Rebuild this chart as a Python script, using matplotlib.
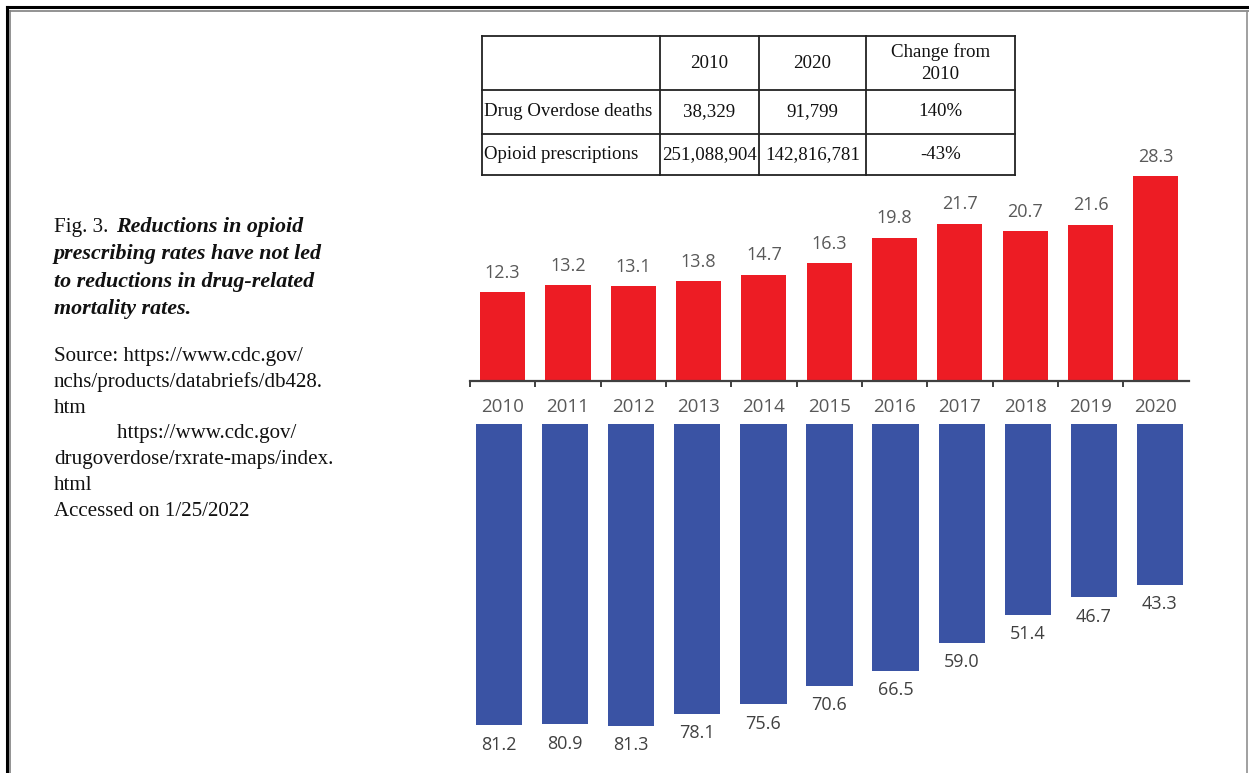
import numpy as np
import matplotlib
matplotlib.use("agg")
import matplotlib.pyplot as plt

# ## Data ##
years = ["2010", "2011", "2012", "2013", "2014", "2015",
         "2016", "2017", "2018", "2019", "2020"]
overdose_rate = [12.3, 13.2, 13.1, 13.8, 14.7, 16.3, 19.8, 21.7, 20.7, 21.6, 28.3]
rx_rate = [81.2, 80.9, 81.3, 78.1, 75.6, 70.6, 66.5, 59.0, 51.4, 46.7, 43.3]

table_cols = ["", "2010", "2020", "Change from\n2010"]
table_rows = ["Drug Overdose deaths", "Opioid prescriptions"]
table_2010 = ["38,329", "251,088,904"]
table_2020 = ["91,799", "142,816,781"]
table_change = ["140%", "-43%"]

caption_lead = "Fig. 3."
caption_bold = ["Reductions in opioid", "prescribing rates have not led",
                "to reductions in drug-related", "mortality rates."]
source_lines = ["Source: https://www.cdc.gov/",
                "nchs/products/databriefs/db428.",
                "htm",
                "            https://www.cdc.gov/",
                "drugoverdose/rxrate-maps/index.",
                "html",
                "Accessed on 1/25/2022"]

W, H = 1249, 773
RED = "#ED1C24"
BLUE = "#3A53A4"
SANS = "Open Sans"
SERIF = "Liberation Serif"


def px_box(x0, y0, x1, y1):
    """Pixel box (top-left origin) -> figure fraction rect."""
    return [x0 / W, 1 - y1 / H, (x1 - x0) / W, (y1 - y0) / H]


fig = plt.figure(figsize=(W / 100, H / 100), dpi=100)

# ## Background overlay for frame, table and caption ##
bg = fig.add_axes([0, 0, 1, 1])
bg.set_xlim(0, W)
bg.set_ylim(H, 0)
bg.axis("off")

# Frame (double line top/left, thin right)
bg.plot([7, 7], [7, H], color="k", lw=2.2)
bg.plot([7, W], [7, 7], color="k", lw=2.2)
bg.plot([10.5, 10.5], [10.5, H], color="#808080", lw=1.2)
bg.plot([10.5, W], [10.5, 10.5], color="#808080", lw=1.2)
bg.plot([1247, 1247], [10.5, H], color="#909090", lw=1.2)

# Table
col_x = [482, 660, 759, 866, 1015]
row_y = [36, 90, 134, 175]
for xl in col_x:
    bg.plot([xl, xl], [row_y[0], row_y[-1]], color="#222222", lw=1.3)
for yl in row_y:
    bg.plot([col_x[0], col_x[-1]], [yl, yl], color="#222222", lw=1.3)
tkw = dict(family=SERIF, fontsize=13.6, color="#111111", va="center")
for j, lab in enumerate(table_cols):
    if lab:
        bg.text((col_x[j] + col_x[j + 1]) / 2, (row_y[0] + row_y[1]) / 2, lab,
                ha="center", linespacing=1.35, **tkw)
for i in range(len(table_rows)):
    yc = (row_y[i + 1] + row_y[i + 2]) / 2
    bg.text(col_x[0] + 2, yc, table_rows[i], ha="left", **tkw)
    bg.text((col_x[1] + col_x[2]) / 2, yc, table_2010[i], ha="center", **tkw)
    bg.text((col_x[2] + col_x[3]) / 2, yc, table_2020[i], ha="center", **tkw)
    bg.text((col_x[3] + col_x[4]) / 2, yc, table_change[i], ha="center", **tkw)

# Caption
ckw = dict(family=SERIF, fontsize=15.1, color="#111111", va="baseline")
bg.text(54, 232, caption_lead, **ckw)
for i, line in enumerate(caption_bold):
    xt = 116 if i == 0 else 54
    bg.text(xt, 232 + 27.3 * i, line, style="italic", weight="bold",
            family=SERIF, fontsize=15.8, color="#111111", va="baseline")
for i, line in enumerate(source_lines):
    bg.text(54, 361 + 25.8 * i, line, **ckw)

# ## Top: overdose death rates (red) ##
axt = fig.add_axes(px_box(470, 140, 1188.5, 381))
axt.patch.set_visible(False)
x = np.arange(len(years))
axt.bar(x, overdose_rate, width=0.69, color=RED)
axt.set_xlim(-0.5, 10.5)
axt.set_ylim(0, (381 - 140) / 7.24)
for xi, v in zip(x, overdose_rate):
    axt.annotate("{:.1f}".format(v), (xi, v), xytext=(0, 14),
                 textcoords="offset points", ha="center", va="center",
                 family=SANS, fontsize=13, color="#595959")
for s in ["top", "right", "left"]:
    axt.spines[s].set_visible(False)
axt.spines["bottom"].set_color("#404040")
axt.spines["bottom"].set_linewidth(1.6)
axt.set_yticks([])
axt.set_xticks(x)
axt.set_xticklabels(years, family=SANS, fontsize=13.5, color="#595959")
axt.set_xticks(np.arange(-0.5, 10, 1.0), minor=True)
axt.tick_params(axis="x", which="major", length=0, pad=12)
axt.tick_params(axis="x", which="minor", length=4, width=1.4,
                color="#404040", direction="out")

# ## Bottom: opioid prescribing rates (blue), hanging down ##
axb = fig.add_axes(px_box(466, 424, 1193, H))
axb.patch.set_visible(False)
axb.bar(x, rx_rate, width=0.70, color=BLUE)
axb.set_xlim(-0.5, 10.5)
axb.set_ylim((H - 424) / 3.71, 0)
for xi, v in zip(x, rx_rate):
    axb.annotate("{:.1f}".format(v), (xi, v), xytext=(0, -14),
                 textcoords="offset points", ha="center", va="center",
                 family=SANS, fontsize=13, color="#404040")
axb.axis("off")

fig.savefig("out.png", dpi=100)
